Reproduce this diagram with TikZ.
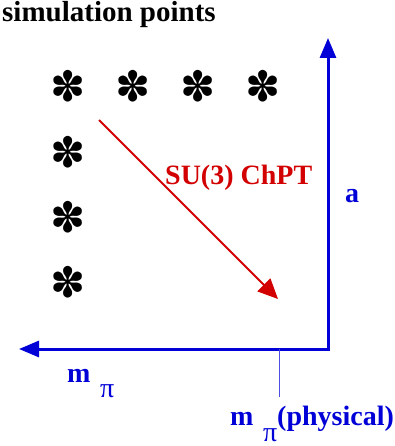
\documentclass[tikz,border=0pt]{standalone}
\usepackage{fontspec}
\setmainfont{Liberation Serif}
\newfontfamily\dingfont{DejaVu Sans}
\usetikzlibrary{arrows.meta}
\definecolor{axisblue}{RGB}{0,0,215}
\definecolor{fitred}{RGB}{210,0,0}
\begin{document}
\begin{tikzpicture}[x=1pt,y=-1pt,
	lbl/.style={inner sep=0pt,anchor=base west,font=\fontsize{28}{30}\selectfont\bfseries},
	simpt/.style={inner sep=0pt,font=\dingfont\fontsize{42}{42}\selectfont},
	axis/.style={axisblue,line width=3pt,line join=miter,{Triangle[length=20pt,width=16pt]}-{Triangle[length=20pt,width=16pt]}},
	fit/.style={fitred,line width=2pt,-{Triangle[length=20pt,width=18pt]}}]
				\useasboundingbox (0,0) rectangle (395,446);
				\node[lbl,font=\fontsize{29}{30}\selectfont\bfseries] (title) at (2,22) {simulation points};
%				simulation points: one row in m_pi, one column in a
				\foreach \i/\x in {1/68,2/133,3/198,4/263}
					\node[simpt] (row\i) at (\x,86) {✽};
				\foreach \i/\y in {2/152,3/217,4/282}
					\node[simpt] (col\i) at (68,\y) {✽};
				\coordinate (fitstart) at (99,120);
				\coordinate (fitend) at (278,299);
				\draw[fit] (fitstart) -- (fitend);
				\node[lbl,fitred] (chpt) at (165,185) {SU(3) ChPT};
				\coordinate (origin) at (328,349);
				\coordinate (atop) at (328,38);
				\coordinate (aleft) at (19,349);
				\draw[axis] (aleft) -- (origin) -- (atop);
				\node[lbl,axisblue] (alab) at (345,202) {a};
				\node[lbl,axisblue] (mlab) at (67,382) {m};
				\node[lbl,axisblue,font=\fontsize{28}{30}\selectfont] (pilab) at (100,397) {π};
				\coordinate (phys) at (279,349);
				\coordinate (physend) at (279,397);
				\draw[axisblue!70,line width=1pt] (phys) -- (physend);
				\node[lbl,axisblue] (mphys) at (230,425) {m};
				\node[lbl,axisblue,font=\fontsize{28}{30}\selectfont] (piphys) at (263,441) {π};
				\node[lbl,axisblue] (physlab) at (277,425) {(physical)};
				\end{tikzpicture}
\end{document}
